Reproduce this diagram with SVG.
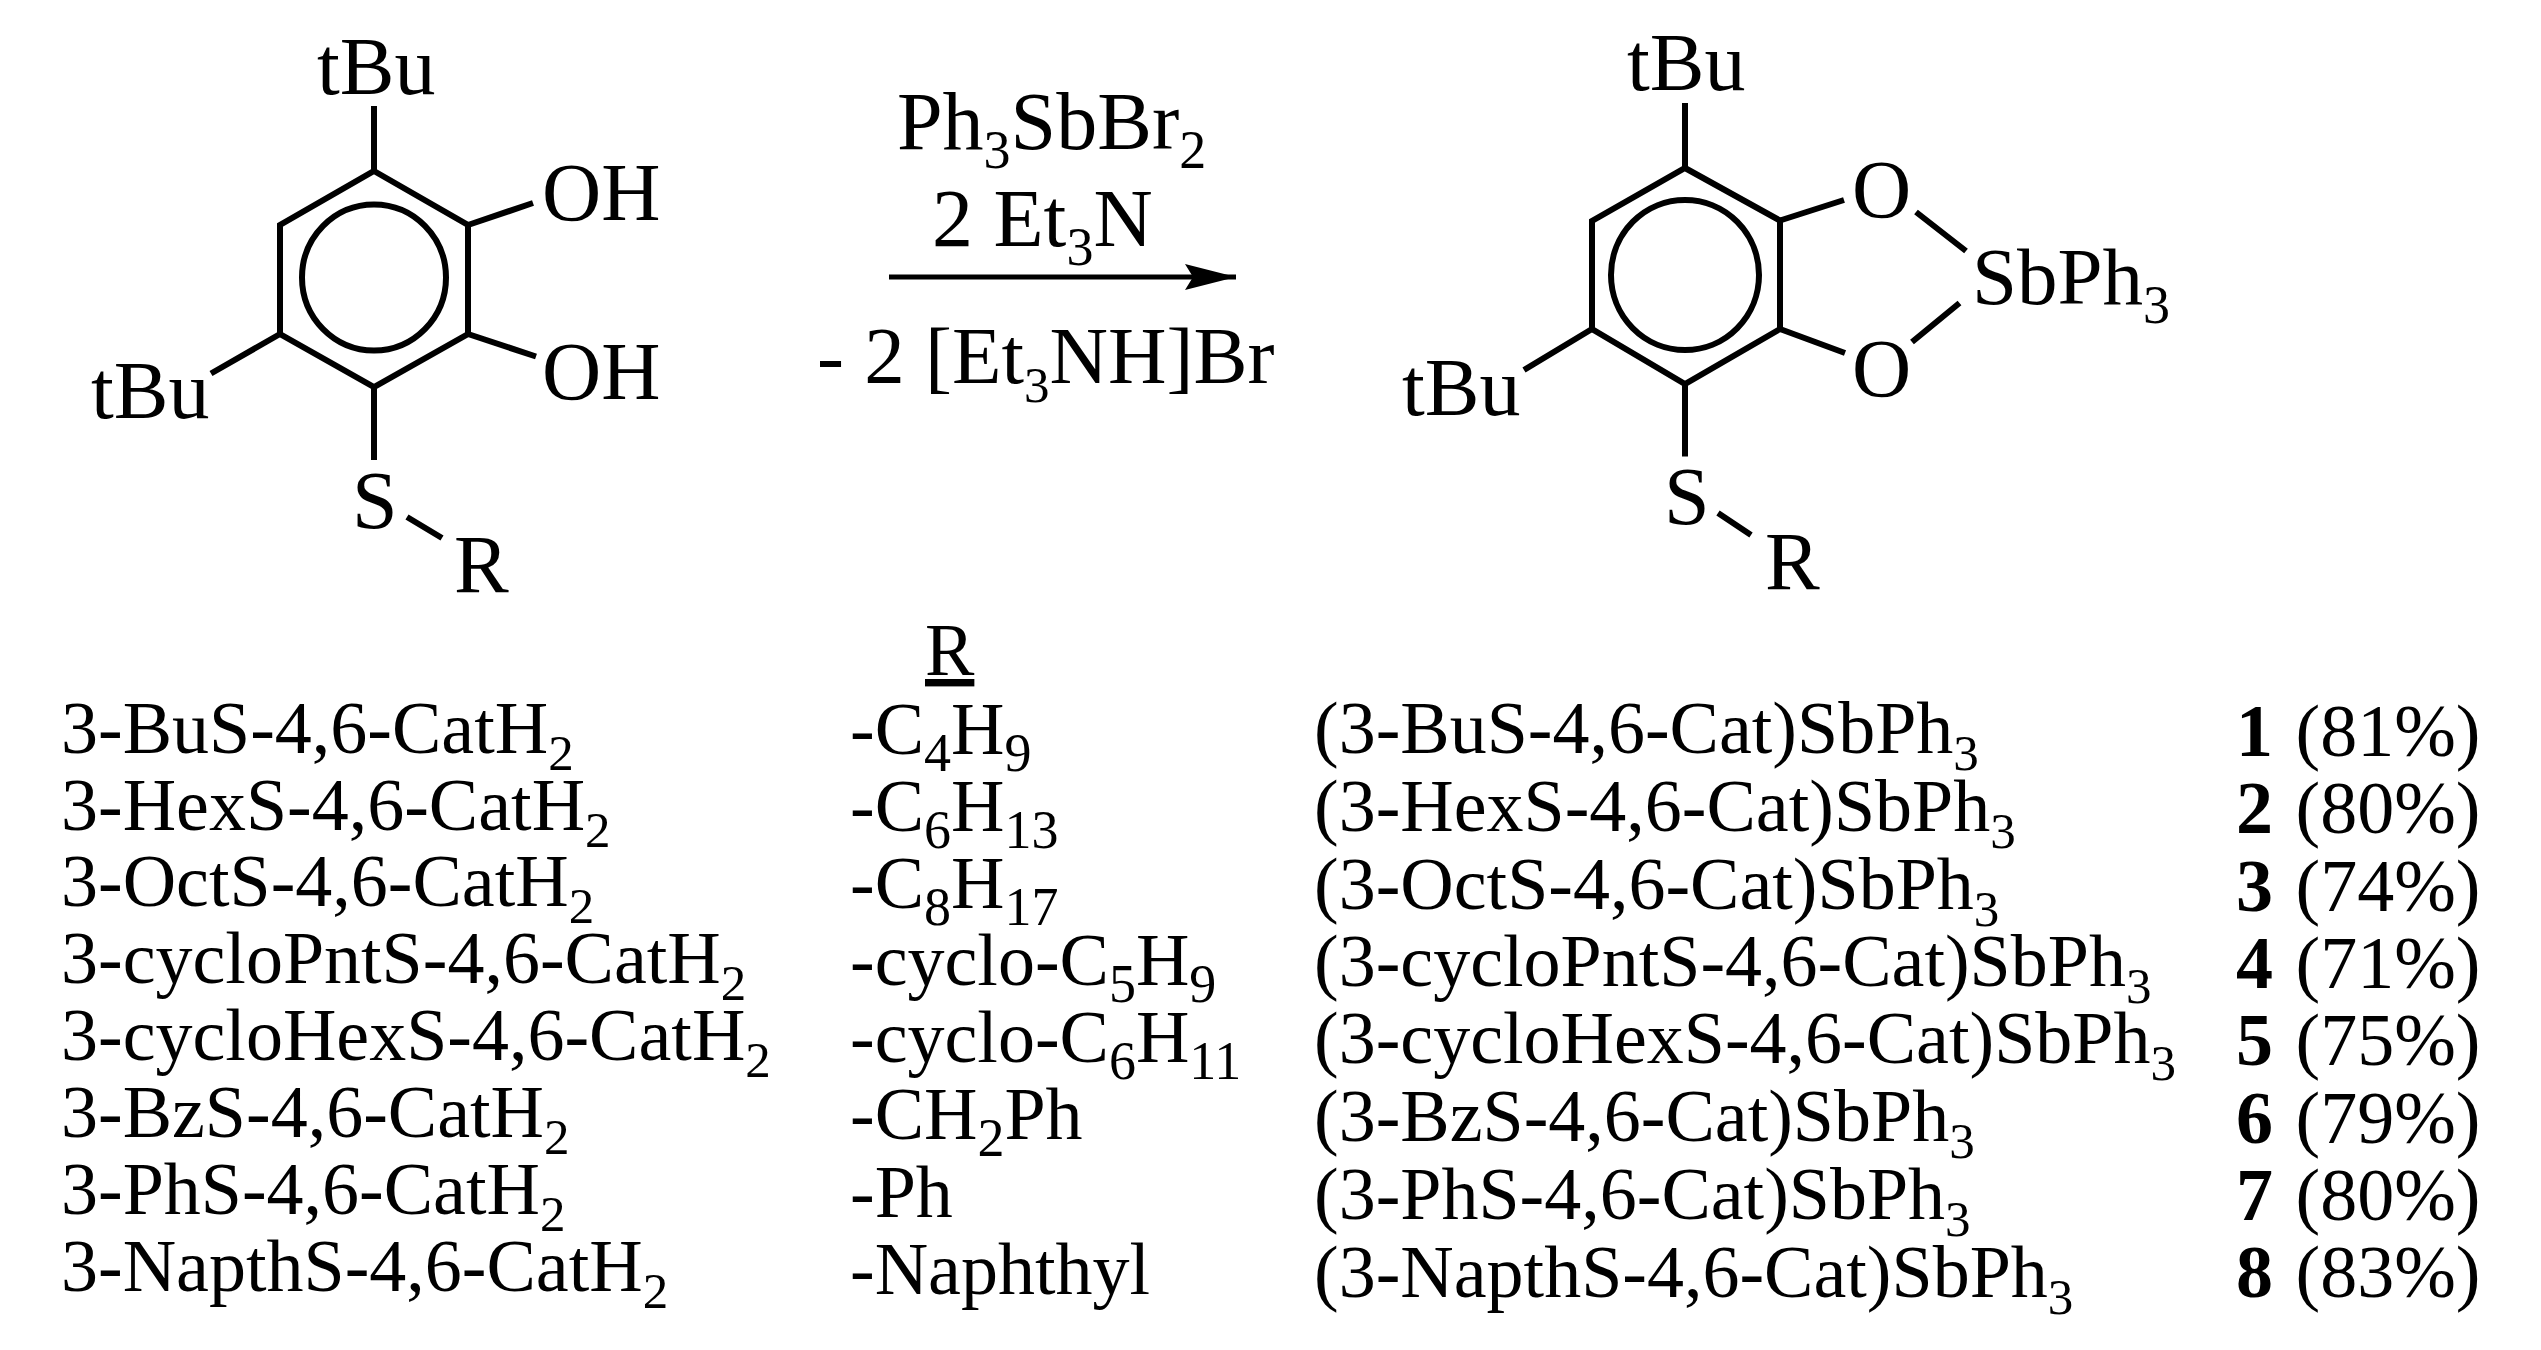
<svg xmlns="http://www.w3.org/2000/svg" width="2541" height="1350" viewBox="0 0 2541 1350">
<style>
text{font-family:"Liberation Serif","Times New Roman",serif;fill:#000;font-size:82px}
.n{font-size:81px}
.t{font-size:74px}
.s{font-size:54px}
.u{font-size:51px}
.b{font-weight:bold}
.bond{stroke:#000;stroke-width:6;fill:none;stroke-linecap:butt;stroke-linejoin:miter}
</style>
<defs><marker id="ah" markerUnits="userSpaceOnUse" markerWidth="52" markerHeight="28" refX="51" refY="13" orient="auto" overflow="visible"><path d="M0 0L51 13L0 26L8 13Z" fill="#000"/></marker></defs>
<rect width="2541" height="1350" fill="#fff"/>
<g id="connectors">
<path class="bond" d="M374 171L468 225V334L374 387L280 334V225Z"/>
<ellipse class="bond" cx="374" cy="277.500" rx="72" ry="73"/>
<path class="bond" d="M374 106V171M468 225L533 203M468 334L536 356.500M280 334L211 373.500M374 387V460M407 517L442 538"/>
<path class="bond" d="M1685 168L1780 220.500V329L1685 384L1592 329V221Z"/>
<ellipse class="bond" cx="1685" cy="275" rx="74" ry="75"/>
<path class="bond" d="M1685 103V168M1780 220.500L1844 200M1780 329L1845 353M1916 212L1966 251M1959.500 303L1912 342M1592 329L1524 370M1685 384V456.500M1718 513L1751 535"/>
<path d="M889 277H1236" stroke="#000" stroke-width="5" fill="none" marker-end="url(#ah)"/>
</g>
<g id="reactant">
<text x="317" y="94">tBu</text><text x="542" y="220">OH</text><text x="542" y="399">OH</text><text x="91" y="418">tBu</text><text x="352" y="528">S</text><text x="454" y="592">R</text>
</g>
<g id="product">
<text x="1627" y="90">tBu</text><text x="1852" y="217">O</text><text x="1852" y="396">O</text><text class="n" x="1972" y="304">SbPh<tspan class="s" dy="19">3</tspan></text><text x="1402" y="415">tBu</text><text x="1664" y="524">S</text><text x="1765" y="589">R</text>
</g>
<g id="conditions">
<text x="897" y="149">Ph<tspan class="s" dy="19">3</tspan><tspan dy="-19">SbBr</tspan><tspan class="s" dy="19">2</tspan></text>
<text x="932" y="246">2 Et<tspan class="s" dy="19">3</tspan><tspan dy="-19">N</tspan></text>
<text class="n" x="817" y="383">- 2 [Et<tspan class="u" dy="19">3</tspan><tspan dy="-19">NH]Br</tspan></text>
</g>
<g id="table">
<text class="t" x="925" y="675" text-decoration="underline">R</text>
<text class="t" x="61" y="753">3-BuS-4,6-CatH<tspan class="u" dy="17">2</tspan></text>
<text class="t" x="61" y="830">3-HexS-4,6-CatH<tspan class="u" dy="17">2</tspan></text>
<text class="t" x="61" y="906">3-OctS-4,6-CatH<tspan class="u" dy="17">2</tspan></text>
<text class="t" x="61" y="983">3-cycloPntS-4,6-CatH<tspan class="u" dy="17">2</tspan></text>
<text class="t" x="61" y="1060">3-cycloHexS-4,6-CatH<tspan class="u" dy="17">2</tspan></text>
<text class="t" x="61" y="1137">3-BzS-4,6-CatH<tspan class="u" dy="17">2</tspan></text>
<text class="t" x="61" y="1214">3-PhS-4,6-CatH<tspan class="u" dy="17">2</tspan></text>
<text class="t" x="61" y="1291">3-NapthS-4,6-CatH<tspan class="u" dy="17">2</tspan></text>
<text class="t" x="850" y="754">-C<tspan class="s" dy="17">4</tspan><tspan dy="-17">H</tspan><tspan class="s" dy="17">9</tspan></text>
<text class="t" x="850" y="831">-C<tspan class="s" dy="17">6</tspan><tspan dy="-17">H</tspan><tspan class="s" dy="17">13</tspan></text>
<text class="t" x="850" y="908">-C<tspan class="s" dy="17">8</tspan><tspan dy="-17">H</tspan><tspan class="s" dy="17">17</tspan></text>
<text class="t" x="850" y="985">-cyclo-C<tspan class="s" dy="17">5</tspan><tspan dy="-17">H</tspan><tspan class="s" dy="17">9</tspan></text>
<text class="t" x="850" y="1062">-cyclo-C<tspan class="s" dy="17">6</tspan><tspan dy="-17">H</tspan><tspan class="s" dy="17">11</tspan></text>
<text class="t" x="850" y="1139">-CH<tspan class="s" dy="17">2</tspan><tspan dy="-17">Ph</tspan></text>
<text class="t" x="850" y="1217">-Ph</text>
<text class="t" x="850" y="1294">-Naphthyl</text>
<text class="t" x="1314" y="753">(3-BuS-4,6-Cat)SbPh<tspan class="u" dy="17">3</tspan></text>
<text class="t" x="1314" y="831">(3-HexS-4,6-Cat)SbPh<tspan class="u" dy="17">3</tspan></text>
<text class="t" x="1314" y="909">(3-OctS-4,6-Cat)SbPh<tspan class="u" dy="17">3</tspan></text>
<text class="t" x="1314" y="986">(3-cycloPntS-4,6-Cat)SbPh<tspan class="u" dy="17">3</tspan></text>
<text class="t" x="1314" y="1063">(3-cycloHexS-4,6-Cat)SbPh<tspan class="u" dy="17">3</tspan></text>
<text class="t" x="1314" y="1141">(3-BzS-4,6-Cat)SbPh<tspan class="u" dy="17">3</tspan></text>
<text class="t" x="1314" y="1219">(3-PhS-4,6-Cat)SbPh<tspan class="u" dy="17">3</tspan></text>
<text class="t" x="1314" y="1297">(3-NapthS-4,6-Cat)SbPh<tspan class="u" dy="17">3</tspan></text>
<text class="t" x="2236" y="756"><tspan class="b">1</tspan><tspan dx="4"> (81%)</tspan></text>
<text class="t" x="2236" y="833"><tspan class="b">2</tspan><tspan dx="4"> (80%)</tspan></text>
<text class="t" x="2236" y="911"><tspan class="b">3</tspan><tspan dx="4"> (74%)</tspan></text>
<text class="t" x="2236" y="988"><tspan class="b">4</tspan><tspan dx="4"> (71%)</tspan></text>
<text class="t" x="2236" y="1065"><tspan class="b">5</tspan><tspan dx="4"> (75%)</tspan></text>
<text class="t" x="2236" y="1143"><tspan class="b">6</tspan><tspan dx="4"> (79%)</tspan></text>
<text class="t" x="2236" y="1220"><tspan class="b">7</tspan><tspan dx="4"> (80%)</tspan></text>
<text class="t" x="2236" y="1297"><tspan class="b">8</tspan><tspan dx="4"> (83%)</tspan></text>
</g>
</svg>
